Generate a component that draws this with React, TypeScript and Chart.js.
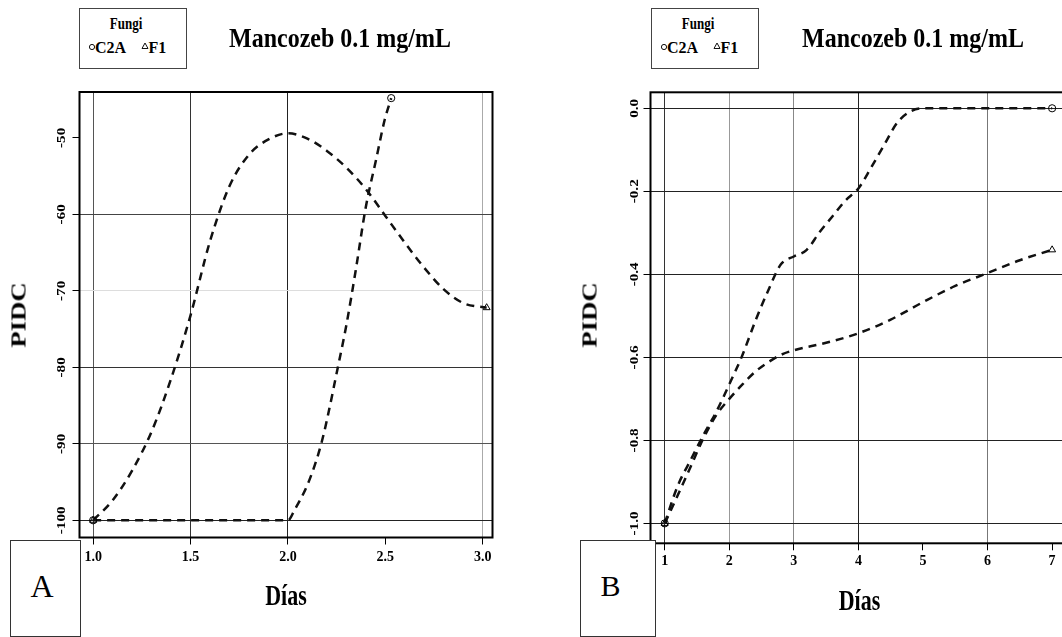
import React, { useEffect, useRef } from "react";
import { Chart, registerables } from "chart.js";

Chart.register(...registerables);

// ---------------- Panel A data ----------------
const daysA_C2A = [1.0, 2.0, 2.035, 2.096, 2.139, 2.174, 2.2, 2.252, 2.299, 2.348, 2.4, 2.452, 2.496, 2.53];
const pidcA_C2A = [-100, -100, -98.6, -95.6, -92.7, -89.7, -86.9, -80.5, -74.6, -67.3, -59.0, -52.9, -47.7, -44.8];
const daysA_F1 = [1.0, 1.1, 1.2, 1.3, 1.4, 1.5, 1.6, 1.7, 1.8, 1.9, 2.0, 2.1, 2.2, 2.3, 2.4, 2.5, 2.6, 2.7, 2.8, 2.9, 3.02];
const pidcA_F1 = [-100, -97.4, -93.5, -88.4, -81.5, -73.2, -63.5, -56.3, -52.2, -50.2, -49.4, -50.1, -51.7, -53.9, -56.7, -60.2, -63.7, -67.0, -69.8, -71.6, -72.2];
const xTicksA = [1.0, 1.5, 2.0, 2.5, 3.0];
const xTickLabelsA = ["1.0", "1.5", "2.0", "2.5", "3.0"];
const yTicksA = [-100, -90, -80, -70, -60, -50];
const yTickLabelsA = ["-100", "-90", "-80", "-70", "-60", "-50"];

// ---------------- Panel B data ----------------
const daysB_C2A = [1.0, 1.2, 1.4, 1.6, 1.8, 2.0, 2.2, 2.4, 2.6, 2.8, 3.0, 3.2, 3.4, 3.6, 3.8, 4.0, 4.2, 4.4, 4.6, 4.8, 5.0, 6.0, 7.0];
const pidcB_C2A = [-1.0, -0.91, -0.848, -0.787, -0.731, -0.665, -0.596, -0.514, -0.44, -0.376, -0.357, -0.341, -0.298, -0.26, -0.222, -0.193, -0.142, -0.088, -0.035, -0.008, 0.0, 0.0, 0.0];
const daysB_F1 = [1.0, 1.2, 1.4, 1.6, 1.8, 2.0, 2.2, 2.4, 2.6, 2.8, 3.0, 3.5, 4.0, 4.5, 5.0, 5.5, 6.0, 6.5, 7.0];
const pidcB_F1 = [-1.0, -0.933, -0.864, -0.795, -0.739, -0.7, -0.666, -0.635, -0.612, -0.594, -0.583, -0.565, -0.542, -0.509, -0.467, -0.428, -0.397, -0.366, -0.341];
const xTicksB = [1, 2, 3, 4, 5, 6, 7];
const xTickLabelsB = ["1", "2", "3", "4", "5", "6", "7"];
const yTicksB = [-1.0, -0.8, -0.6, -0.4, -0.2, 0.0];
const yTickLabelsB = ["-1.0", "-0.8", "-0.6", "-0.4", "-0.2", "0.0"];

// ---------------- Texts ----------------
const titleText = "Mancozeb 0.1 mg/mL";
const legendTitle = "Fungi";
const seriesNames = ["C2A", "F1"];
const xAxisTitle = "Días";
const yAxisTitle = "PIDC";

// ---------------- Styles ----------------
const xGridA = ["#555", "#333", "#222", "rgba(0,0,0,0)", "#aaa"];
const yGridA = ["#222", "#555", "#333", "#ddd", "#444", "rgba(0,0,0,0)"];
const xGridB = ["#333", "#999", "#888", "#222", "rgba(0,0,0,0)", "#777", "rgba(0,0,0,0)"];
const yGridB = ["#222", "#222", "#222", "#222", "#222", "#222"];

const SERIF = '"Liberation Serif", "Times New Roman", serif';

type Series = { x: number[]; y: number[]; marker: "circle" | "triangle"; r: number };
type PanelCfg = {
  left: number;
  width: number;
  height: number;
  area: { left: number; top: number; right: number; bottom: number };
  xMin: number; xMax: number; yMin: number; yMax: number;
  xTicks: number[]; xLabels: string[]; yTicks: number[]; yLabels: string[];
  xGrid: string[]; yGrid: string[];
  series: Series[];
  yLabelX: number;
  xLabelPad: number;
};

function PanelChart({ cfg }: { cfg: PanelCfg }) {
  const ref = useRef<HTMLCanvasElement | null>(null);
  useEffect(() => {
    if (!ref.current) return;
    const c = cfg;
    const framePlugin = {
      id: "frameAndYLabels",
      afterDraw(chart: any) {
        const { ctx, chartArea: a, scales } = chart;
        ctx.save();
        ctx.strokeStyle = "#000";
        ctx.lineWidth = 2;
        ctx.strokeRect(a.left, a.top, a.right - a.left, a.bottom - a.top);
        const ys = scales.y;
        const fs = 13;
        ctx.fillStyle = "#000";
        ctx.font = `bold ${fs}px ${SERIF}`;
        ctx.textAlign = "center";
        ctx.textBaseline = "alphabetic";
        ys.ticks.forEach((t: any, i: number) => {
          const py = ys.getPixelForValue(t.value);
          ctx.save();
          ctx.translate(c.yLabelX, py);
          ctx.rotate(-Math.PI / 2);
          ctx.scale(1.17, 1);
          ctx.fillText(c.yLabels[i], 0, 0.34 * fs);
          ctx.restore();
        });
        ctx.restore();
      },
    };
    const datasets = c.series.map((s) => {
      const last = s.x.length - 1;
      return {
        data: s.x.map((xv, i) => ({ x: xv, y: s.y[i] })),
        borderColor: "#111",
        borderWidth: 2.5,
        borderDash: [8, 6],
        cubicInterpolationMode: "monotone" as const,
        fill: false,
        pointStyle: s.marker,
        pointRadius: s.x.map((_, i) => (i === 0 || i === last ? s.r : 0)),
        pointBorderColor: "#000",
        pointBackgroundColor: "rgba(0,0,0,0)",
        pointBorderWidth: 1,
        clip: 12,
      };
    });
    const tickFont = { family: SERIF, size: 14, weight: "bold" as const };
    const chart = new Chart(ref.current, {
      type: "line",
      data: { datasets: datasets as any },
      options: {
        animation: false,
        responsive: false,
        maintainAspectRatio: false,
        events: [],
        layout: { padding: { left: 0, top: c.area.top, right: c.width - c.area.right, bottom: 0 } },
        plugins: { legend: { display: false }, tooltip: { enabled: false }, title: { display: false } },
        scales: {
          x: {
            type: "linear",
            position: "bottom",
            min: c.xMin,
            max: c.xMax,
            afterBuildTicks: (s: any) => {
              s.ticks = c.xTicks.map((v) => ({ value: v }));
            },
            afterFit: (s: any) => {
              s.height = c.height - c.area.bottom;
            },
            ticks: {
              callback: (_v: any, i: number) => c.xLabels[i],
              font: tickFont,
              color: "#000",
              padding: c.xLabelPad,
              maxRotation: 0,
              minRotation: 0,
              autoSkip: false,
            },
            grid: {
              color: (ctx: any) => c.xGrid[ctx.index] ?? "rgba(0,0,0,0)",
              lineWidth: 1,
              drawTicks: true,
              tickLength: 7,
              tickColor: "#000",
              tickWidth: 1,
            },
            border: { display: false },
          },
          y: {
            type: "linear",
            position: "left",
            min: c.yMin,
            max: c.yMax,
            afterBuildTicks: (s: any) => {
              s.ticks = c.yTicks.map((v) => ({ value: v }));
            },
            afterFit: (s: any) => {
              s.width = c.area.left;
            },
            ticks: { display: false },
            grid: {
              color: (ctx: any) => c.yGrid[ctx.index] ?? "rgba(0,0,0,0)",
              lineWidth: 1,
              drawTicks: true,
              tickLength: 7,
              tickColor: "#000",
              tickWidth: 1,
            },
            border: { display: false },
          },
        },
      } as any,
      plugins: [framePlugin],
    });
    return () => chart.destroy();
  }, [cfg]);
  return (
    <canvas
      ref={ref}
      width={cfg.width}
      height={cfg.height}
      style={{ position: "absolute", left: cfg.left, top: 0, width: cfg.width, height: cfg.height }}
    />
  );
}

function Txt(props: {
  x: number; y: number; size: number; bold?: boolean; sx?: number; sy?: number; rot?: number;
  align?: "center" | "left"; children: React.ReactNode;
}) {
  const { x, y, size, bold = true, sx = 1, sy = 1, rot = 0, align = "center", children } = props;
  const tx = align === "center" ? "-50%" : "0";
  return (
    <div
      style={{
        position: "absolute",
        left: x,
        top: y,
        fontFamily: SERIF,
        fontSize: size,
        fontWeight: bold ? 700 : 400,
        lineHeight: `${size}px`,
        whiteSpace: "nowrap",
        color: "#000",
        transform: `translate(${tx},-50%) rotate(${rot}deg) scale(${sx},${sy})`,
        transformOrigin: align === "center" ? "50% 50%" : "0 50%",
      }}
    >
      {children}
    </div>
  );
}

function CircleMark({ x, y }: { x: number; y: number }) {
  return (
    <svg style={{ position: "absolute", left: x - 4, top: y - 4 }} width={8} height={8}>
      <circle cx={4} cy={4} r={2.6} fill="none" stroke="#111" strokeWidth={1} />
    </svg>
  );
}
function TriMark({ x, y }: { x: number; y: number }) {
  return (
    <svg style={{ position: "absolute", left: x - 4, top: y - 4 }} width={8} height={8}>
      <polygon points="4,1 7,6.5 1,6.5" fill="none" stroke="#111" strokeWidth={1} />
    </svg>
  );
}

function Decor({ boxLeft, titleX, labelBox, letter, letterX, letterSize, diasX, diasY, pidcX }: {
  boxLeft: number; titleX: number; labelBox: { left: number; width: number }; letter: string;
  letterX: number; letterSize: number; diasX: number; diasY: number; pidcX: number;
}) {
  return (
    <>
      <div
        style={{
          position: "absolute", left: boxLeft, top: 8, width: 108, height: 61,
          border: "1px solid #444", boxSizing: "border-box", background: "#fff",
        }}
      />
      <Txt x={boxLeft + 47} y={22.5} size={13} sy={1.25}>{legendTitle}</Txt>
      <CircleMark x={boxLeft + 12.5} y={46.5} />
      <Txt x={boxLeft + 16} y={46.5} size={16} sy={1.1} align="left">{seriesNames[0]}</Txt>
      <TriMark x={boxLeft + 65.5} y={46} />
      <Txt x={boxLeft + 69.5} y={46.5} size={16} sy={1.1} align="left">{seriesNames[1]}</Txt>
      <Txt x={titleX} y={38} size={24} sy={1.1}>{titleText}</Txt>
      <Txt x={diasX} y={diasY} size={22} sy={1.3}>{xAxisTitle}</Txt>
      <Txt x={pidcX} y={315} size={21} sx={1.27} rot={-90}>{yAxisTitle}</Txt>
      <div
        style={{
          position: "absolute", left: labelBox.left, top: 540, width: labelBox.width, height: 97,
          border: "1px solid #333", boxSizing: "border-box", background: "#fff",
        }}
      />
      <Txt x={letterX} y={586} size={letterSize} bold={false}>{letter}</Txt>
    </>
  );
}

const cfgA: PanelCfg = {
  left: 0,
  width: 531,
  height: 637,
  area: { left: 79.5, top: 92, right: 492.5, bottom: 537.5 },
  xMin: 0.93, xMax: 3.05, yMin: -102.25, yMax: -44.0,
  xTicks: xTicksA, xLabels: xTickLabelsA, yTicks: yTicksA, yLabels: yTickLabelsA,
  xGrid: xGridA, yGrid: yGridA,
  series: [
    { x: daysA_C2A, y: pidcA_C2A, marker: "circle", r: 3.6 },
    { x: daysA_F1, y: pidcA_F1, marker: "triangle", r: 4 },
  ],
  yLabelX: 60.5,
  xLabelPad: 4,
};

const cfgB: PanelCfg = {
  left: 531,
  width: 545,
  height: 637,
  area: { left: 119.5, top: 92.3, right: 537, bottom: 543.3 },
  xMin: 0.78, xMax: 7.246, yMin: -1.048, yMax: 0.0385,
  xTicks: xTicksB, xLabels: xTickLabelsB, yTicks: yTicksB, yLabels: yTickLabelsB,
  xGrid: xGridB, yGrid: yGridB,
  series: [
    { x: daysB_C2A, y: pidcB_C2A, marker: "circle", r: 3.6 },
    { x: daysB_F1, y: pidcB_F1, marker: "triangle", r: 4 },
  ],
  yLabelX: 102.5,
  xLabelPad: 3,
};

export default function App() {
  return (
    <div
      style={{
        position: "absolute", left: 0, top: 0, width: 1062, height: 637,
        overflow: "hidden", background: "#fff",
      }}
    >
      <PanelChart cfg={cfgA} />
      <PanelChart cfg={cfgB} />
      <Decor
        boxLeft={79} titleX={340} labelBox={{ left: 10, width: 71 }} letter="A"
        letterX={42} letterSize={32} diasX={286} diasY={596} pidcX={18.5}
      />
      <Decor
        boxLeft={651} titleX={913} labelBox={{ left: 580, width: 76 }} letter="B"
        letterX={610.5} letterSize={30} diasX={859.5} diasY={601} pidcX={589.5}
      />
    </div>
  );
}
